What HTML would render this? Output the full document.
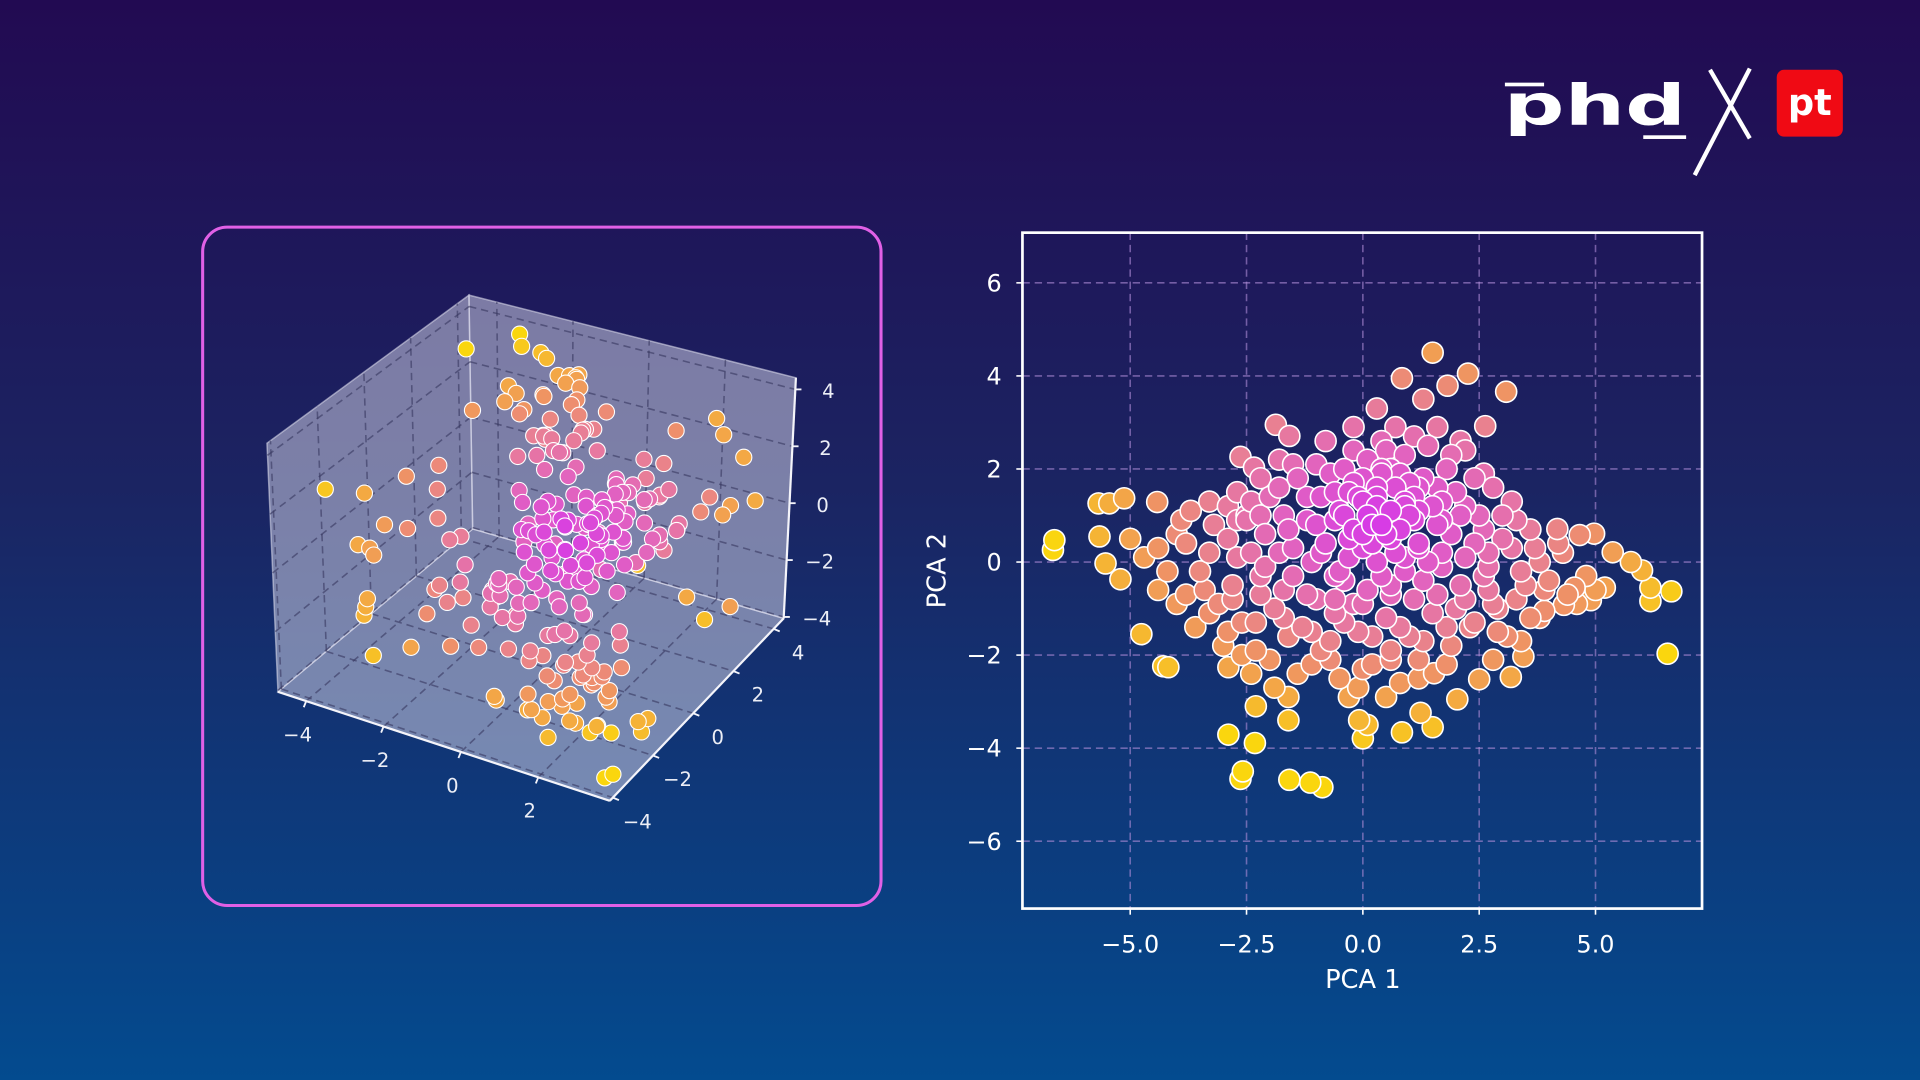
<!DOCTYPE html>
<html><head><meta charset="utf-8"><style>
html,body{margin:0;padding:0;width:1920px;height:1080px;overflow:hidden;background:#102a66}
svg{display:block}
text{font-family:"DejaVu Sans","Liberation Sans",sans-serif}
</style></head><body>
<svg id="root" width="1920" height="1080" viewBox="0 0 1568 882" xmlns="http://www.w3.org/2000/svg">
<defs>
<linearGradient id="bg" x1="0" y1="0" x2="0" y2="1">
<stop offset="0" stop-color="#220a52"/><stop offset="0.45" stop-color="#1b2462"/><stop offset="1" stop-color="#034b8f"/>
</linearGradient>
</defs>
<rect x="0" y="0" width="1568" height="882" fill="url(#bg)"/>
<g>
<rect x="1229" y="67.5" width="32" height="3" fill="#fff"/>
<text x="1228" y="101.6" font-family="Liberation Sans, sans-serif" font-weight="bold" font-size="46" fill="#fff" textLength="149" lengthAdjust="spacingAndGlyphs">phd</text>
<rect x="1342" y="110.5" width="35" height="3" fill="#fff"/>
<line x1="1396.5" y1="57" x2="1429" y2="113" stroke="#fff" stroke-width="3.5"/>
<line x1="1429" y1="56" x2="1384" y2="143" stroke="#fff" stroke-width="3.5"/>
<rect x="1451" y="57" width="54" height="54.6" rx="6" fill="#f00a14"/>
<text x="1478" y="94" text-anchor="middle" font-family="Liberation Sans, sans-serif" font-weight="bold" font-size="30" fill="#fff">pt</text>
</g>
<rect x="165.5" y="185.5" width="554" height="554" rx="20" fill="none" stroke="#e060e6" stroke-width="2.5"/>
<g id="g3d"></g>
<g id="g2d"></g>
</svg>
<script>
// ---------- 2D PCA data ----------
const pcaX = [-6.63,-6.66,6.63,6.55,6.18,6.18,1.5,2.26,0.84,3.08,2.63,1.82,1.3,0.3,-0.2,-1.87,-1.58,-2.63,-2.34,-1.5,
-2.89,-2.32,-2.63,-2.58,-1.58,-1.13,-0.87,0.0,0.1,-0.08,0.84,1.5,1.24,2.03,1.53,2.5,3.18,3.45,
-4.76,-4.29,-4.18,-2.89,-3.0,-2.4,-2.3,-1.6,-1.9,-5.68,-5.45,-5.13,-4.42,-5.66,-5.53,-5.21,-5.0,-4.7,
4.18,4.66,4.97,5.37,5.76,6.0,5.2,4.9,4.55,4.32,4.8,3.9,3.7,-3.3,-3.7,-4.0,-3.5,-4.2,-3.8,-3.1,-3.6,-2.9,-2.7,
3.2,3.0,3.4,2.8,3.1,2.6,2.5,2.3,2.7,3.6,3.3,2.2,-2.5,-2.2,-2.6,-2.0,-1.8,-2.3,-1.9,-2.8,-2.1,-1.6,
-1.4,-1.0,-0.6,-0.2,0.4,0.9,1.4,1.8,2.0,1.3,-1.2,-0.8,-0.4,0.0,0.3,0.7,1.0,1.5,1.9,0.5,
-1.5,-1.0,-0.5,0.0,0.4,0.9,1.3,1.7,2.1,-0.2,-1.3,-0.7,-0.1,0.5,1.0,1.5,1.9,0.2,-0.5,0.8,1.2,-1.1,-0.3,0.5,
-0.9,0.2,0.6,1.1,-0.3,0.8,1.2,0.1,0.6,-0.6,1.4,-1.1,0.4,0.9,-0.1,1.6,0.3,-0.4,2.4,2.0,-1.7,-2.4,2.6,1.7,
-0.8,0.1,0.7,1.1,1.6,2.1,-0.4,1.9,2.4,0.5,
-2.2,-1.8,-1.2,-0.7,-0.2,0.3,0.8,1.2,1.7,2.2,2.8,-2.9,-2.4,0.0,1.0,
-3.2,-2.7,-2.2,-1.6,-1.0,-0.5,0.1,0.6,1.1,1.6,2.1,2.6,3.0,3.6,-3.8,0.4,-0.2,
-3.3,-2.7,-2.1,-1.5,-0.9,-0.3,0.2,0.7,1.2,1.7,2.2,2.7,3.2,3.8,4.3,-4.4,0.9,-0.6,
-3.4,-2.8,-2.2,-1.7,-1.2,-0.6,0.0,0.6,1.1,1.6,2.2,2.7,3.3,3.9,4.4,-4.0,
-2.9,-2.3,-1.7,-1.1,-0.4,0.2,0.8,1.3,1.8,2.4,2.9,3.4,-0.9,0.6,
-2.0,-1.4,-0.7,0.0,0.6,1.2,1.8,-2.6,2.8,-0.1,-1.6,
-0.3,0.3,0.9,0.0,0.6,-0.6,1.2,0.4,
3.5,4.0,4.6,3.8,4.2,5.0,-3.9,-4.4,-3.3,-2.5,-1.8,2.9];
const pcaY = [0.47,0.26,-0.63,-1.97,-0.84,-0.55,4.5,4.05,3.95,3.66,2.92,3.79,3.5,3.3,2.9,2.95,2.71,2.26,2.03,2.1,
-3.71,-3.89,-4.66,-4.5,-4.68,-4.74,-4.84,-3.79,-3.5,-3.4,-3.66,-3.55,-3.24,-2.95,-2.39,-2.52,-2.47,-2.03,
-1.55,-2.24,-2.26,-2.26,-1.8,-2.4,-3.1,-3.4,-2.7,1.26,1.26,1.37,1.29,0.55,-0.03,-0.37,0.5,0.1,
0.71,0.58,0.61,0.21,0.0,-0.18,-0.55,-0.82,-0.55,-0.92,-0.3,-1.05,0.3,1.3,1.1,0.6,-0.2,-0.2,-0.7,-0.9,-1.4,0.5,1.5,
1.3,0.5,-0.2,-0.9,-1.6,1.9,1.0,-1.4,0.2,-1.2,0.9,2.4,0.9,-0.3,-1.3,1.4,0.2,-1.9,-1.0,-0.5,0.6,-1.6,
1.8,2.1,1.5,2.4,2.6,2.3,2.5,2.0,1.5,1.8,0.9,0.4,1.0,1.8,1.2,1.6,1.0,1.2,0.6,0.6,
-0.3,-0.8,-0.2,0.3,-0.3,0.1,-0.4,-0.1,-0.5,-0.9,-1.4,-1.7,-1.5,-1.2,-1.6,-1.1,-1.8,-2.2,-2.5,-2.6,-2.1,-2.2,-2.9,-2.9,
1.4,0.8,2.0,1.4,0.5,0.7,0.4,-0.6,-0.7,-1.1,0.0,0.0,1.9,1.2,1.4,1.6,0.0,-0.4,0.4,-1.0,1.0,0.2,-0.3,0.9,
2.6,2.2,2.9,2.7,2.9,2.6,2.0,2.3,1.8,2.4,
1.8,1.6,1.4,1.9,1.7,1.6,1.9,1.6,1.3,1.2,1.6,1.2,1.3,1.3,1.7,
0.8,0.9,1.0,0.7,0.8,1.1,1.0,1.1,0.9,0.8,1.0,0.7,1.0,0.7,0.4,0.8,0.7,
0.2,0.1,-0.1,0.3,0.2,0.1,0.4,0.2,0.3,0.2,0.1,-0.1,0.3,0.0,0.2,0.3,-0.2,-0.3,
-0.6,-0.8,-0.7,-0.6,-0.7,-0.8,-0.9,-0.5,-0.8,-0.7,-0.8,-0.6,-0.8,-0.6,-0.7,-0.9,
-1.5,-1.3,-1.2,-1.5,-1.3,-1.6,-1.4,-1.7,-1.4,-1.3,-1.5,-1.7,-1.9,-1.9,
-2.1,-2.4,-2.1,-2.3,-2.1,-2.5,-2.2,-2.0,-2.1,-2.7,-2.9,
1.5,1.4,1.3,0.6,0.5,0.9,1.1,2.0,
-0.5,-0.4,-0.9,-1.2,0.4,-0.6,0.9,-0.6,-1.1,1.0,2.2,-1.0];
const xTicks = [-5,-2.5,0,2.5,5];
const xTickLabels = ["−5.0","−2.5","0.0","2.5","5.0"];
const yTicks = [-6,-4,-2,0,2,4,6];
const yTickLabels = ["−6","−4","−2","0","2","4","6"];

// ---------- 3D data ----------
const p3x = [-3.9,-2.8,-2.45,-1.95,-1.8,-1.2,-1.3,-1.5,-2.5,-2.3,-2.1,-2.6,-2.55,-4.6,-4.2,-3.1,-2.85,-2.9,-3.7,-3.8,-3.5,-3.4,-3.1,-2.9,-2.3,
-3.0,-3.05,-3.1,-2.3,-1.9,-1.47,-1.25,0.8,0.85,1.65,3.26,3.45,3.8,3.64,3.85,3.54,3.45,3.7,3.7,2.1,2.3,2.85,3.2,2.35,2.55,1.6,2.0,2.5,0.1,
0.5,0.8,1.2,0.2,1.5,0.9,0.3,1.1,-0.2,0.6,1.8,0.4,-0.5,1.3,0.7,0.1,1.6,-0.3,0.9,1.4,0.0,0.5,1.0,-0.8,2.0,0.3,-0.1,1.2,0.6,1.9,
-0.6,0.2,1.5,0.8,-0.4,2.2,0.4,1.1,-1.0,0.7,1.0,1.5,1.8,2.2,1.2,2.5,0.6,2.0,1.4,2.8,1.7,0.9,2.4,0.2,1.0,2.9,3.0,1.6,2.6,0.4,
-0.8,-1.2,-0.5,-1.5,-0.9,-1.8,-0.2,-1.4,-2.0,-0.7,-1.1,-2.3,-1.0,-0.5,-1.3,-0.2,-0.8,-1.5,0.0,-0.6,-1.8,0.3,
1.5,2.0,1.2,2.5,1.8,2.8,1.0,2.2,0.9,1.3,0.4,0.7,1.0,0.2,1.6,0.6,1.1,0.8,
0.3,0.6,0.9,1.2,0.0,0.5,1.0,1.4,0.2,0.7,1.1,-0.2,0.4,0.8,1.3,1.7,0.1,0.6,-0.4,0.9,
-0.5,-0.2,-0.8,0.0,-1.1,-0.6,-0.3,-0.9,-1.3,-0.1,
1.3,1.6,1.0,1.9,1.4,2.1,1.2,1.7,0.8,2.3,1.5,1.9,1.1,2.5,1.8,
-0.4,-0.8,-0.2,-1.1,-0.6,0.1,-1.4,-0.9,
0.6,1.1,0.4,1.5,0.9,1.8,2.4,1.3,0.2,1.0,
-1.4,-1.0,-0.7,-1.2,-0.9,-0.5,-1.6,-0.8,-1.1,-0.6,
0.8,1.2,1.6,2.0,1.0,1.4,1.8,0.6,2.2,1.1,1.5,0.9,1.9,1.3,0.7,
2.0,2.4,1.8,2.7,2.2,1.6,2.9,2.5,2.1,1.9,
-0.3,0.2,-0.6,0.0,0.5,-0.2,0.3,-0.8,0.1,-0.4];
const p3y = [3,3.5,3,3,3,3,3,3,2.5,2.5,2.5,2.5,1,-2,-1,-1,0,0,-1,-2,-2,-2,-1,0,0,
-3,-3,-3,-4,-3,-3,-3,-4,-4,-4,-4,-4,-4,-4,-4,-2,-2,-2,2,4,4,4,4,4,4,3,3,3,4,
0,0.5,-0.3,0.4,0.8,-0.6,-0.2,1.2,0.3,0.9,0.2,-0.9,0.6,0.4,-0.1,1.1,-0.5,-0.4,1.5,0.9,0.0,-1.2,0.2,0.2,1.0,0.7,-0.8,-1.0,1.8,-0.2,
-0.3,-1.5,1.4,0.0,1.0,0.5,0.3,-1.6,0.8,1.2,-1.5,-2.0,-1.2,-2.5,-2.2,-1.8,-2.0,-3.0,-2.8,-2.2,-1.0,-2.6,-1.0,-1.8,-0.8,-3.0,-2.0,-3.2,-3.4,-2.6,
-1.0,-0.5,-1.8,-1.2,-2.0,-0.8,-1.2,-2.2,-1.5,-0.3,-2.6,-0.5,1.5,1.0,2.0,1.8,2.4,1.2,2.2,0.5,1.8,1.5,
2.5,2.0,3.0,1.5,2.8,2.5,2.6,3.2,0.6,0.1,1.0,-0.5,0.8,0.2,0.6,0.4,-0.2,1.0,
0.2,-0.3,0.5,0.1,-0.6,0.9,-0.9,0.6,1.3,-1.1,1.1,0.0,-0.4,0.3,-0.7,0.5,0.7,1.4,0.9,-0.2,
1.5,2.0,1.2,2.6,1.8,2.3,1.0,2.8,2.1,1.7,
-1.6,-2.1,-1.3,-1.8,-2.6,-2.4,-1.9,-3.1,-2.3,-2.9,-1.1,-1.4,-2.8,-2.0,-3.3,
-0.8,-1.3,-1.9,-0.5,-2.2,-1.0,-1.6,-0.2,
2.0,2.5,1.6,1.2,2.9,2.2,1.8,3.0,0.4,-0.1,
2.2,1.8,2.6,1.4,2.9,2.0,2.5,1.6,3.1,2.4,
1.0,1.4,0.8,1.6,1.9,0.5,1.2,2.2,0.9,0.3,2.0,1.5,1.8,0.6,1.2,
-1.8,-2.2,-2.6,-1.5,-3.0,-1.2,-2.4,-1.9,-2.8,-1.4,
-0.6,-1.0,-0.2,-1.4,-0.8,-1.8,-1.2,-0.9,-0.4,-1.6];
const p3z = [3.7,4.3,4.3,4.25,4.1,3.7,3.4,3.6,3.2,3.0,2.5,2.6,3.25,1.6,1.0,2.0,1.85,1.0,0.1,0.0,0.0,-0.2,0.2,0.0,-0.4,
-0.9,-1.2,-1.5,-1.9,-2.1,-0.8,0.1,-2.0,-2.1,-2.1,-2.2,-1.9,-2.0,-3.5,-3.3,-3.4,-3.1,-2.9,-1.9,2.7,2.2,1.6,0.2,-0.6,-0.2,2.75,-2.9,-3.5,-3.2,
1.2,0.9,1.5,0.6,0.3,0.2,1.8,1.0,1.4,-0.2,0.8,0.9,0.5,-0.5,2.2,0.2,1.1,0.8,1.6,1.9,0.0,-0.4,-1.0,1.2,0.0,2.5,-0.3,0.5,0.4,-0.6,
2.0,1.3,-0.8,-1.5,-0.6,1.4,-0.9,-0.2,0.0,-1.2,-1.5,-2.0,-2.5,-1.8,-1.0,-2.8,-2.2,-2.5,-1.2,-2.2,-3.0,-2.8,-1.2,-1.0,-2.0,-2.8,-1.5,-2.9,-1.9,-1.5,
-0.8,-1.5,-0.5,-0.3,-1.6,-1.8,-1.8,-0.9,-1.0,-2.3,-2.0,-0.2,2.6,3.0,2.2,2.8,3.2,1.9,2.0,2.7,2.9,3.3,
0.8,1.5,0.3,0.6,-0.5,1.2,1.8,0.0,0.5,0.9,1.0,0.6,1.3,1.0,0.6,0.2,0.1,0.0,
0.8,0.4,1.1,0.2,0.9,0.5,-0.1,1.3,0.0,0.7,1.6,1.4,-0.4,1.9,0.6,-0.2,2.1,1.0,0.3,-0.6,
2.2,2.8,1.7,3.1,2.4,3.5,2.6,3.8,2.0,3.0,
-1.2,-1.8,-0.7,-2.3,-2.0,-1.4,-2.7,-2.4,-1.6,-3.0,-0.9,-2.9,-3.1,-2.0,-3.4,
-0.9,-1.4,-0.4,-1.7,-2.1,-1.1,-0.6,-1.3,
1.2,0.4,-0.3,2.0,0.9,-0.8,0.6,1.5,-1.0,-0.5,
3.4,3.0,3.7,2.6,3.9,2.3,3.2,2.1,3.6,2.9,
0.9,0.5,1.3,0.2,1.1,0.8,1.6,0.4,0.6,1.4,1.0,1.8,-0.2,0.0,1.2,
-1.6,-2.1,-2.6,-1.2,-2.9,-0.8,-2.4,-1.9,-2.2,-1.5,
0.2,-0.4,0.6,-0.9,0.0,-1.2,0.4,-0.7,0.9,-0.3];
const xTicks3 = [-4,-2,0,2];
const yTicks3 = [-4,-2,0,2,4];
const zTicks3 = [-4,-2,0,2,4];

const NS = "http://www.w3.org/2000/svg";
function mk(parent, tag, attrs){ const e=document.createElementNS(NS,tag); for(const k in attrs) e.setAttribute(k,attrs[k]); parent.appendChild(e); return e; }
const stops=[[0,[214,56,232]],[0.3,[226,100,190]],[0.5,[232,126,150]],[0.66,[238,144,105]],[0.82,[244,172,62]],[1,[250,214,14]]];
function cmap(t){ t=Math.max(0,Math.min(1,t)); for(let i=1;i<stops.length;i++){ if(t<=stops[i][0]){ const a=stops[i-1],b=stops[i]; const f=(t-a[0])/(b[0]-a[0]); return 'rgb('+a[1].map((v,j)=>Math.round(v+(b[1][j]-v)*f)).join(',')+')'; } } return 'rgb(250,214,14)'; }

// ---------- 2D chart ----------
(function(){
  const g=document.getElementById('g2d');
  const L=835,R=1390,T=190,B=742;
  const sx=v=>1113+38*v, sy=v=>459-38*v;
  xTicks.forEach((v,i)=>{
    const l=mk(g,'line',{x1:sx(v),x2:sx(v),y1:T,y2:B,stroke:'rgba(175,140,215,0.6)','stroke-width':1.3,'stroke-dasharray':'6,4'});
     
    const tk=mk(g,'line',{x1:sx(v),x2:sx(v),y1:B,y2:B+5,stroke:'#fff','stroke-width':1.3});
     
    const t=mk(g,'text',{x:sx(v),y:778,'text-anchor':'middle','font-size':19.5,fill:'#fff'}); t.textContent=xTickLabels[i];
     
  });
  yTicks.forEach((v,i)=>{
    const l=mk(g,'line',{x1:L,x2:R,y1:sy(v),y2:sy(v),stroke:'rgba(175,140,215,0.6)','stroke-width':1.3,'stroke-dasharray':'6,4'});
     
    const tk=mk(g,'line',{x1:L-5,x2:L,y1:sy(v),y2:sy(v),stroke:'#fff','stroke-width':1.3});
     
    const t=mk(g,'text',{x:818,y:sy(v)+7,'text-anchor':'end','font-size':19.5,fill:'#fff'}); t.textContent=yTickLabels[i];
     
  });
  const idx=pcaX.map((_,i)=>i);
  const tval=i=>Math.hypot((pcaX[i]-0.3)/1.4,pcaY[i]-0.9)/5.0;
  idx.sort((a,b)=>tval(b)-tval(a));
  idx.forEach(i=>{
    const c=mk(g,'circle',{cx:sx(pcaX[i]),cy:sy(pcaY[i]),r:8.6,fill:cmap(tval(i)),stroke:'#fff','stroke-width':1.3});
     
  });
  const fr=mk(g,'rect',{x:L,y:T,width:R-L,height:B-T,fill:'none',stroke:'#fff','stroke-width':2.2});
   
  const xl=mk(g,'text',{x:1113,y:807,'text-anchor':'middle','font-size':21,fill:'#fff'}); xl.textContent='PCA 1';
   
  const yl=mk(g,'text',{x:0,y:0,'text-anchor':'middle','font-size':21,fill:'#fff',transform:'translate(772,466) rotate(-90)'}); yl.textContent='PCA 2';
   
})();

// ---------- 3D chart ----------
(function(){
  const g=document.getElementById('g3d');
  const xmin=-4.73,xmax=3.85,ymin=-4.15,ymax=4.5,zmin=-4.05,zmax=4.41;
  const C={
    '000':[227,565],'100':[498,654],'110':[640,505],'010':[386,432],
    '001':[218,362],'101':[499,438],'111':[650,308.5],'011':[383,241]};
  function P(x,y,z){
    const a=(x-xmin)/(xmax-xmin), b=(y-ymin)/(ymax-ymin), c=(z-zmin)/(zmax-zmin);
    let u=0,v=0;
    for(const k in C){ const w=(k[0]==='1'?a:1-a)*(k[1]==='1'?b:1-b)*(k[2]==='1'?c:1-c); u+=w*C[k][0]; v+=w*C[k][1]; }
    return [u,v];
  }
  const poly=(pts,name)=>{ const e=mk(g,'polygon',{points:pts.map(p=>p.join(',')).join(' '),fill:'rgba(212,212,232,0.52)',stroke:'rgba(225,225,240,0.55)','stroke-width':1.2});
      };
  poly([P(xmin,ymin,zmin),P(xmin,ymax,zmin),P(xmin,ymax,zmax),P(xmin,ymin,zmax)],'left-pane');
  poly([P(xmin,ymax,zmin),P(xmax,ymax,zmin),P(xmax,ymax,zmax),P(xmin,ymax,zmax)],'back-pane');
  poly([P(xmin,ymin,zmin),P(xmax,ymin,zmin),P(xmax,ymax,zmin),P(xmin,ymax,zmin)],'floor-pane');
  const gl=(p,q)=>{ const e=mk(g,'line',{x1:p[0],y1:p[1],x2:q[0],y2:q[1],stroke:'rgba(55,55,95,0.6)','stroke-width':1.3,'stroke-dasharray':'6,4'});
      };
  xTicks3.forEach(v=>{ gl(P(v,ymin,zmin),P(v,ymax,zmin)); gl(P(v,ymax,zmin),P(v,ymax,zmax)); });
  yTicks3.forEach(v=>{ gl(P(xmin,v,zmin),P(xmax,v,zmin)); gl(P(xmin,v,zmin),P(xmin,v,zmax)); });
  zTicks3.forEach(v=>{ gl(P(xmin,ymin,v),P(xmin,ymax,v)); gl(P(xmin,ymax,v),P(xmax,ymax,v)); });
  const ax=(p,q,name)=>{ const e=mk(g,'line',{x1:p[0],y1:p[1],x2:q[0],y2:q[1],stroke:'#f4f4fa','stroke-width':1.8});
      };
  ax(P(xmin,ymin,zmin),P(xmax,ymin,zmin),'x-axis-3d');
  ax(P(xmax,ymin,zmin),P(xmax,ymax,zmin),'y-axis-3d');
  ax(P(xmax,ymax,zmin),P(xmax,ymax,zmax),'z-axis-3d');
  const lab=(p,dx,dy,s,name)=>{
    const t=mk(g,'text',{x:p[0]+dx,y:p[1]+dy+6,'text-anchor':'middle','font-size':16,fill:'#eceef6'}); t.textContent=s;
     
  };
  const tick=(p,dx,dy)=>{ const e=mk(g,'line',{x1:p[0],y1:p[1],x2:p[0]+dx,y2:p[1]+dy,stroke:'#f4f4fa','stroke-width':1.5});
      };
  const fmt=v=>(v<0?'−':'')+Math.abs(v);
  xTicks3.forEach(v=>{ const p=P(v,ymin,zmin); tick(p,-2,5); lab(p,-7,27,fmt(v),'x-tick-label-3d'); });
  yTicks3.forEach(v=>{ const p=P(xmax,v,zmin); tick(p,5,2); lab(p,20,19,fmt(v),'y-tick-label-3d'); });
  zTicks3.forEach(v=>{ const p=P(xmax,ymax,v); tick(p,5,0); lab(p,27,1,fmt(v),'z-tick-label-3d'); });
  const idx=p3x.map((_,i)=>i);
  const tv=i=>Math.hypot(p3x[i]-0.5,p3y[i],p3z[i]-0.5)/6.0;
  idx.sort((a,b)=>tv(b)-tv(a));
  idx.forEach(i=>{ const p=P(p3x[i],p3y[i],p3z[i]);
    const c=mk(g,'circle',{cx:p[0],cy:p[1],r:6.6,fill:cmap(tv(i)),stroke:'#fff','stroke-width':0.9});
      });
})();
</script>
</body></html>
